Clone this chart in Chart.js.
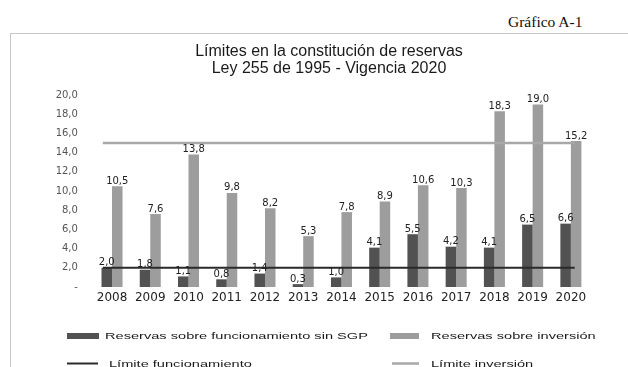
<!DOCTYPE html>
<html>
<head>
<meta charset="utf-8">
<script src="https://cdn.jsdelivr.net/npm/chart.js@4/dist/chart.umd.min.js"></script>
<style>
  html, body { margin: 0; padding: 0; background: #fff; width: 628px; height: 367px; overflow: hidden; }
  #frame { position: absolute; left: 10px; top: 33px; width: 640px; height: 400px; border: 1px solid #c6c6c6; }
  #tag { position: absolute; left: 508px; top: 13px; font: 15.5px "Liberation Serif", serif; line-height: 18px; color: #111; white-space: nowrap; }
  #title { position: absolute; left: 129px; width: 400px; top: 41.5px; text-align: center; font: 16px "Liberation Sans", Arial, sans-serif; line-height: 17px; color: #1a1a1a; }
  #c { position: absolute; left: 0; top: 0; filter: blur(0.35px); }
</style>
</head>
<body>
<div id="frame"></div>
<div id="tag">Gráfico A-1</div>
<canvas id="c" width="628" height="367"></canvas>
<div id="title">Límites en la constitución de reservas<br>Ley 255 de 1995 - Vigencia 2020</div>
<script>
// Reservas constituidas por año (%) y límites de la Ley 255 de 1995
const years = ['2008', '2009', '2010', '2011', '2012', '2013', '2014', '2015', '2016', '2017', '2018', '2019', '2020'];
const reservasFuncionamiento = [2.0, 1.8, 1.1, 0.8, 1.4, 0.3, 1.0, 4.1, 5.5, 4.2, 4.1, 6.5, 6.6];
const reservasInversion = [10.5, 7.6, 13.8, 9.8, 8.2, 5.3, 7.8, 8.9, 10.6, 10.3, 18.3, 19.0, 15.2];
const limiteFuncionamiento = [2.0, 2.0, 2.0, 2.0, 2.0, 2.0, 2.0, 2.0, 2.0, 2.0, 2.0, 2.0, 2.0];
const limiteInversion = [15.0, 15.0, 15.0, 15.0, 15.0, 15.0, 15.0, 15.0, 15.0, 15.0, 15.0, 15.0, 15.0];
const yMin = 0, yMax = 20, yStep = 2;

const fmt = v => v.toFixed(1).replace('.', ',');

// Limit lines run a little past the first and last year (in category widths)
const limitLineSpan = {
  id: 'limitLineSpan',
  beforeDatasetDraw(chart, args, opts) {
    if (chart.data.datasets[args.index].type !== 'line') return;
    const x = chart.scales.x;
    const n = chart.data.labels.length;
    const first = x.getPixelForValue(0), last = x.getPixelForValue(n - 1);
    const step = (last - first) / (n - 1);
    const a = first - opts.before * step, b = last + opts.after * step;
    const sx = (b - a) / (last - first);
    const ctx = chart.ctx;
    ctx.save();
    ctx.translate(a - sx * first, 0);
    ctx.scale(sx, 1);
  },
  afterDatasetDraw(chart, args) {
    if (chart.data.datasets[args.index].type !== 'line') return;
    chart.ctx.restore();
  }
};

// Value labels above each bar
const barValueLabels = {
  id: 'barValueLabels',
  afterDatasetsDraw(chart) {
    const ctx = chart.ctx;
    ctx.save();
    ctx.font = '10px "DejaVu Sans"';
    ctx.fillStyle = '#222';
    ctx.textAlign = 'center';
    ctx.textBaseline = 'alphabetic';
    chart.data.datasets.forEach((ds, di) => {
      if (ds.type === 'line') return;
      chart.getDatasetMeta(di).data.forEach((el, i) => {
        ctx.fillText(fmt(ds.data[i]), el.x, el.y - 2.5);
      });
    });
    ctx.restore();
  }
};

// Two-column legend under the plot
const gridLegend = {
  id: 'gridLegend',
  afterDraw(chart, args, opts) {
    const ctx = chart.ctx;
    ctx.save();
    ctx.textBaseline = 'middle';
    ctx.textAlign = 'left';
    opts.items.forEach(item => {
      const ds = chart.data.datasets[item.dataset];
      if (ds.type === 'line') {
        ctx.strokeStyle = ds.borderColor;
        ctx.lineWidth = ds.borderWidth;
        ctx.beginPath();
        ctx.moveTo(item.x0, item.y);
        ctx.lineTo(item.x1, item.y);
        ctx.stroke();
      } else {
        ctx.fillStyle = ds.backgroundColor;
        ctx.fillRect(item.x0, item.y - 3, item.x1 - item.x0, 6);
      }
      ctx.save();
      ctx.translate(item.tx, item.y + 0.5);
      ctx.scale(opts.stretch, 1);
      ctx.font = opts.font;
      ctx.fillStyle = '#1a1a1a';
      ctx.fillText(ds.label, 0, 0);
      ctx.restore();
    });
    ctx.restore();
  }
};

new Chart(document.getElementById('c'), {
  type: 'bar',
  data: {
    labels: years,
    datasets: [
      {
        label: 'Reservas sobre funcionamiento sin SGP',
        data: reservasFuncionamiento,
        backgroundColor: '#525252',
        categoryPercentage: 0.55, barPercentage: 1,
        order: 2
      },
      {
        label: 'Reservas sobre inversión',
        data: reservasInversion,
        backgroundColor: '#9d9d9d',
        categoryPercentage: 0.55, barPercentage: 1,
        order: 2
      },
      {
        type: 'line',
        label: 'Límite funcionamiento',
        data: limiteFuncionamiento,
        borderColor: '#2a2a2a', borderWidth: 2,
        pointRadius: 0, fill: false,
        order: 0
      },
      {
        type: 'line',
        label: 'Límite inversión',
        data: limiteInversion,
        borderColor: '#a8a8a8', borderWidth: 2.5,
        pointRadius: 0, fill: false,
        order: 1
      }
    ]
  },
  options: {
    responsive: false,
    animation: false,
    devicePixelRatio: 1,
    layout: { padding: { left: 40, right: 38, top: 95, bottom: 60 } },
    plugins: {
      legend: { display: false },
      tooltip: { enabled: false },
      title: { display: false },
      limitLineSpan: { before: 0.24, after: 0.1 },
      gridLegend: {
        font: '9.8px "Liberation Sans"',
        stretch: 1.49,
        items: [
          { dataset: 0, x0: 67, x1: 99, tx: 105, y: 336 },
          { dataset: 1, x0: 390, x1: 419, tx: 431, y: 336 },
          { dataset: 2, x0: 67, x1: 98, tx: 109, y: 363.5 },
          { dataset: 3, x0: 392, x1: 419, tx: 431, y: 363.5 }
        ]
      }
    },
    scales: {
      x: {
        type: 'category',
        offset: true,
        grid: { display: false, drawTicks: false },
        border: { display: false },
        ticks: { font: { family: '"DejaVu Sans"', size: 12 }, color: '#222', padding: 4, maxRotation: 0, autoSkip: false },
        afterFit: s => { s.height = 20; }
      },
      y: {
        min: yMin, max: yMax,
        grid: { display: false, drawTicks: false },
        border: { display: false },
        ticks: {
          stepSize: yStep,
          padding: 15,
          color: '#555',
          font: { family: '"DejaVu Sans"', size: 10 },
          callback: v => (v === 0 ? '-' : fmt(v))
        },
        afterFit: s => { s.width = 52.9; }
      }
    }
  },
  plugins: [limitLineSpan, barValueLabels, gridLegend]
});
</script>
</body>
</html>
